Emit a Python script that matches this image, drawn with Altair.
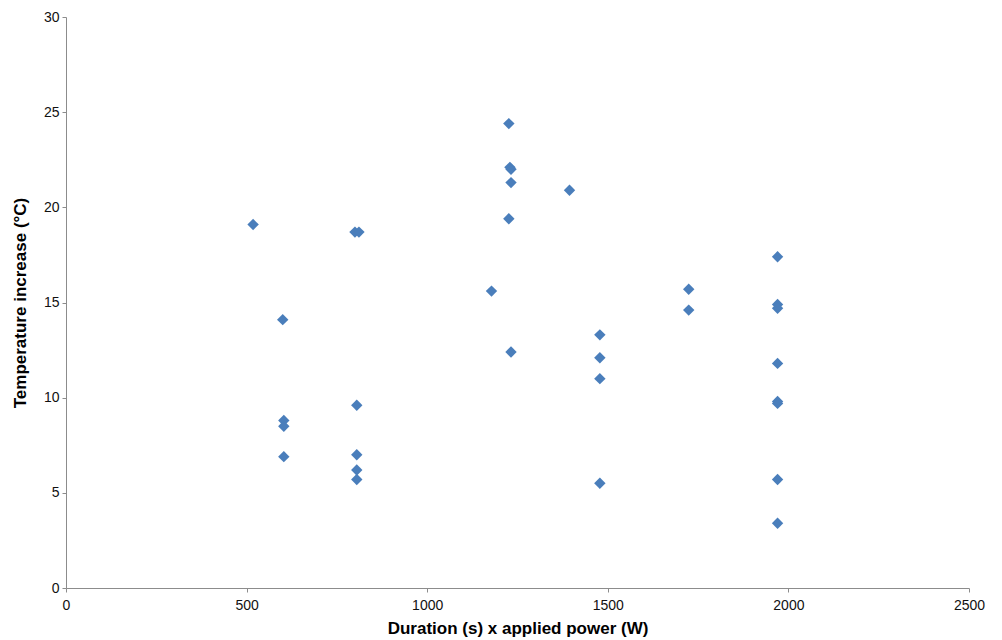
import altair as alt
import pandas as pd

energy = [518, 600, 603, 603, 603,
          800, 811, 805, 805, 805, 805,
          1226, 1229, 1232, 1232, 1226, 1178, 1232, 1394,
          1478, 1478, 1478, 1478,
          1724, 1724,
          1970, 1970, 1970, 1970, 1970, 1970, 1970, 1970]
temp_rise = [19.1, 14.1, 8.8, 8.5, 6.9,
             18.7, 18.7, 9.6, 7.0, 6.2, 5.7,
             24.4, 22.1, 22.0, 21.3, 19.4, 15.6, 12.4, 20.9,
             13.3, 12.1, 11.0, 5.5,
             15.7, 14.6,
             17.4, 14.9, 14.7, 11.8, 9.8, 9.7, 5.7, 3.4]

df = pd.DataFrame({"energy": energy, "temp": temp_rise})

chart = alt.Chart(df).mark_point(
    shape="diamond", filled=True, size=130, color="#4A7EBB", opacity=1
).encode(
    x=alt.X("energy:Q", title="Duration (s) x applied power (W)",
            scale=alt.Scale(domain=[0, 2500], nice=False),
            axis=alt.Axis(values=[0, 500, 1000, 1500, 2000, 2500], grid=False,
                          format="d", labelFlush=False,
                          tickSize=4, labelPadding=6, titlePadding=8)),
    y=alt.Y("temp:Q", title="Temperature increase (°C)",
            scale=alt.Scale(domain=[0, 30], nice=False),
            axis=alt.Axis(values=[0, 5, 10, 15, 20, 25, 30], grid=False,
                          format="d", labelFlush=False,
                          tickSize=4, labelPadding=3, titlePadding=14)),
).properties(
    width=903, height=571,
    autosize=alt.AutoSizeParams(type="none"),
    padding={"left": 58, "top": 9, "right": 25, "bottom": 52},
).configure_view(stroke=None).configure_axis(
    domainColor="#8c8c8c", tickColor="#8c8c8c",
    labelFont="Liberation Sans", labelFontSize=14, labelColor="#111111",
    titleFont="Liberation Sans", titleFontSize=17, titleFontWeight="bold",
    titleColor="#000000",
)

chart.save("out.html", embed_options={"renderer": "svg", "actions": False})
